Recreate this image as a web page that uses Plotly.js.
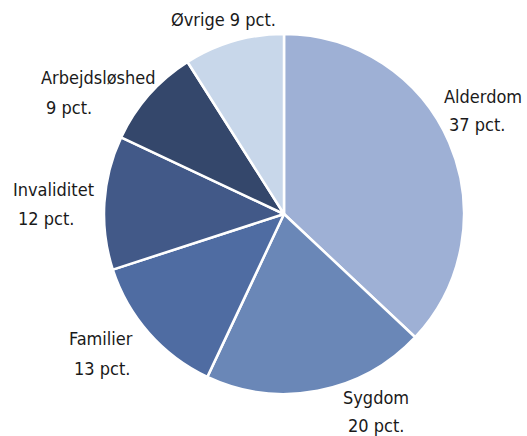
<!DOCTYPE html>
<html><head><meta charset="utf-8">
<script src="https://cdn.plot.ly/plotly-3.0.1.min.js"></script>
<style>html,body{margin:0;padding:0;background:#fff}#c{width:527px;height:436px}</style>
</head><body><div id="c"></div>
<script>
const categories = ["Alderdom","Sygdom","Familier","Invaliditet","Arbejdsløshed","Øvrige"];
const values = [37, 20, 13, 12, 9, 9];
const unit = "pct.";
const colors = ["#9EB0D5","#6A87B7","#4F6CA2","#425988","#34476B","#C8D7EA"];
// label layout: [nameLeft, nameY, valueLeft, valueY] in pixels; singleLine flag
const labelPos = [
  [442, 96, 447, 124, false],
  [341, 397, 346, 425, false],
  [67, 338, 72, 368, false],
  [11, 189, 16, 218, false],
  [39, 77, 44, 107, false],
  [169, 20, 0, 0, true]
];
const W = 527, H = 436;
const font = {family: "DejaVu Sans Condensed, Liberation Sans Narrow, sans-serif", size: 18, color: "#1a1a1a"};
const annotations = [];
categories.forEach((c, i) => {
  const p = labelPos[i];
  if (p[4]) {
    annotations.push({text: c + " " + values[i] + " " + unit, x: p[0]/W, y: 1 - p[1]/H, xref: "paper", yref: "paper", xanchor: "left", yanchor: "middle", showarrow: false, font: font});
  } else {
    annotations.push({text: c, x: p[0]/W, y: 1 - p[1]/H, xref: "paper", yref: "paper", xanchor: "left", yanchor: "middle", showarrow: false, font: font});
    annotations.push({text: values[i] + " " + unit, x: p[2]/W, y: 1 - p[3]/H, xref: "paper", yref: "paper", xanchor: "left", yanchor: "middle", showarrow: false, font: font});
  }
});
const cx = 284, cy = 214, r = 180;
Plotly.newPlot("c", [{
  type: "pie",
  labels: categories,
  values: values,
  sort: false,
  direction: "clockwise",
  rotation: 0,
  textinfo: "none",
  hoverinfo: "label+value",
  marker: {colors: colors, line: {color: "#ffffff", width: 2.5}},
  domain: {x: [(cx - r)/W, (cx + r)/W], y: [(H - cy - r)/H, (H - cy + r)/H]}
}], {
  width: W, height: H,
  margin: {l: 0, r: 0, t: 0, b: 0},
  showlegend: false,
  paper_bgcolor: "#ffffff",
  annotations: annotations
}, {displayModeBar: false, staticPlot: true});
</script></body></html>
